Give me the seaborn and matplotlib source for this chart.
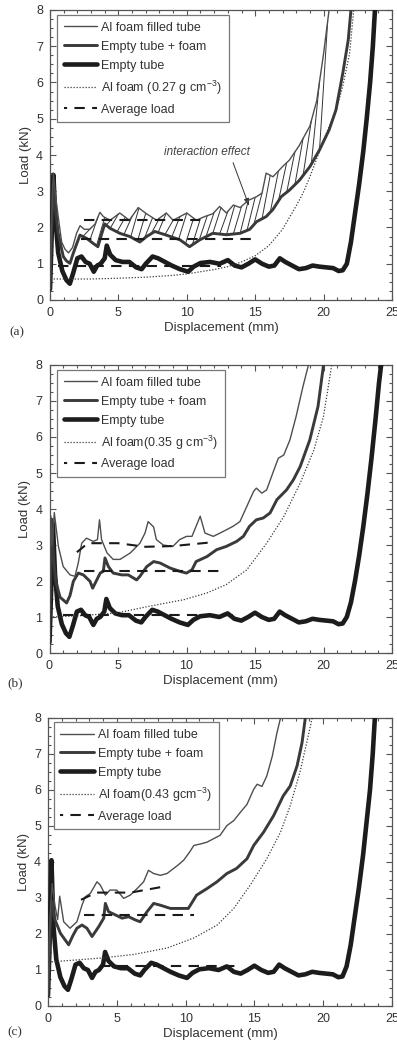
import numpy as np
import matplotlib
matplotlib.use("Agg")
import matplotlib.pyplot as plt
import seaborn as sns
from matplotlib.ticker import MultipleLocator
from matplotlib.lines import Line2D

# ---------------- data ----------------
# Panel (a)
A_FILLED_X = [0.0, 0.1, 0.24, 0.4, 0.6, 0.85, 1.1, 1.35, 1.65, 1.95, 2.2, 2.5, 2.9, 3.3, 3.65, 3.9, 4.4, 5.1, 5.8, 6.45, 7.05, 7.8, 8.5, 9.0, 10.0, 10.7, 11.3, 11.9, 12.4, 12.9, 13.4, 13.9, 14.5, 15.1, 15.5, 15.8, 16.3, 17.0, 17.5, 18.2, 19.0, 19.5, 20.0, 20.4]
A_FILLED_Y = [0.3, 2.0, 3.5, 2.9, 2.3, 1.6, 1.4, 1.3, 1.45, 1.85, 2.05, 1.95, 1.95, 2.1, 2.42, 2.3, 2.2, 2.4, 2.2, 2.55, 2.38, 2.2, 2.4, 2.2, 2.4, 2.2, 2.3, 2.38, 2.58, 2.4, 2.62, 2.55, 2.75, 2.85, 2.95, 3.5, 3.4, 3.68, 3.86, 4.25, 4.8, 5.5, 6.8, 8.0]
A_EPF_X = [0.0, 0.1, 0.24, 0.4, 0.6, 0.97, 1.2, 1.46, 1.7, 2.0, 2.19, 2.68, 3.16, 3.5, 4.0, 4.38, 5.1, 5.84, 6.57, 7.06, 7.66, 8.5, 9.5, 10.2, 10.95, 11.9, 12.9, 13.9, 14.6, 15.1, 15.8, 16.3, 16.9, 17.5, 18.25, 19.0, 19.7, 20.4, 20.9, 21.4, 21.8, 22.0]
A_EPF_Y = [0.3, 1.8, 3.2, 2.5, 1.84, 1.2, 1.08, 1.01, 1.29, 1.6, 1.79, 1.7, 1.56, 1.47, 2.1, 1.98, 1.84, 1.75, 1.6, 1.75, 1.89, 1.79, 1.66, 1.47, 1.66, 1.84, 1.8, 1.84, 1.95, 2.16, 2.3, 2.5, 2.85, 3.03, 3.31, 3.68, 4.14, 4.69, 5.24, 6.25, 7.17, 8.0]
A_EMPTY_X = [0.0, 0.1, 0.25, 0.4, 0.6, 0.9, 1.2, 1.45, 1.7, 2.0, 2.3, 2.6, 2.9, 3.2, 3.45, 3.7, 4.0, 4.15, 4.4, 4.8, 5.3, 5.8, 6.3, 6.7, 7.0, 7.5, 7.9, 8.4, 8.9, 9.5, 10.1, 10.5, 11.0, 11.7, 12.4, 13.0, 13.5, 14.0, 14.5, 15.0, 15.5, 16.0, 16.4, 16.8, 17.2, 17.7, 18.2, 18.7, 19.2, 19.7, 20.2, 20.7, 21.1, 21.4, 21.7, 22.0, 22.3, 22.6, 22.9, 23.15, 23.4, 23.6, 23.8]
A_EMPTY_Y = [0.3, 1.5, 3.45, 2.2, 1.3, 0.8, 0.55, 0.45, 0.75, 1.15, 1.2, 1.05, 1.0, 0.78, 0.95, 1.0, 1.15, 1.5, 1.25, 1.1, 1.05, 1.05, 0.9, 0.85, 1.0, 1.2, 1.15, 1.05, 0.95, 0.85, 0.78, 0.92, 1.02, 1.05, 1.0, 1.1, 0.95, 0.9, 1.0, 1.12, 1.0, 0.92, 0.95, 1.15, 1.05, 0.95, 0.85, 0.88, 0.95, 0.92, 0.9, 0.88, 0.8, 0.82, 1.0, 1.6, 2.4, 3.2, 4.1, 5.0, 6.0, 7.0, 8.3]
A_FOAM_X = [0.05, 1.0, 3.0, 5.0, 7.0, 9.0, 10.0, 11.0, 12.0, 13.0, 14.0, 15.0, 16.0, 17.0, 18.0, 18.5, 19.0, 19.6, 20.2, 20.9, 21.4, 21.9, 22.2, 22.3]
A_FOAM_Y = [0.58, 0.58, 0.58, 0.6, 0.63, 0.68, 0.72, 0.78, 0.84, 0.92, 1.05, 1.22, 1.5, 1.95, 2.6, 2.95, 3.4, 4.0, 4.6, 5.2, 5.9, 6.8, 8.0, 8.5]
A_AVG_X = [[2.5, 11.0], [2.3, 14.7], [0.6, 12.5]]
A_AVG_Y = [[2.2, 2.2], [1.67, 1.67], [0.93, 0.93]]
A_HATCH_X = [2.4, 2.9, 3.4, 3.9, 4.4, 4.9, 5.4, 5.9, 6.4, 6.9, 7.4, 7.9, 8.4, 8.9, 9.4, 9.9, 10.4, 10.9, 11.4, 11.9, 12.4, 12.9, 13.4, 13.9, 14.4, 14.9, 15.5, 16.1, 16.7, 17.3, 17.9, 18.5, 19.1, 19.7]

# Panel (b)
B_FILLED_X = [0.0, 0.1, 0.2, 0.35, 0.65, 1.0, 1.5, 1.86, 2.1, 2.35, 2.7, 3.2, 3.5, 3.65, 3.8, 4.2, 4.65, 5.15, 5.9, 6.6, 6.97, 7.2, 7.6, 7.8, 8.3, 9.0, 9.5, 10.0, 10.4, 10.7, 11.0, 11.35, 11.96, 12.7, 13.4, 13.9, 14.4, 14.9, 15.1, 15.5, 15.85, 16.3, 16.7, 17.1, 17.55, 18.0, 18.5, 18.9]
B_FILLED_Y = [0.3, 3.8, 3.0, 3.9, 2.96, 2.4, 2.17, 2.13, 2.5, 3.05, 3.19, 3.1, 3.15, 3.7, 3.15, 2.78, 2.6, 2.6, 2.78, 3.05, 3.33, 3.65, 3.5, 3.15, 3.0, 2.96, 3.15, 3.24, 3.24, 3.52, 3.8, 3.33, 3.24, 3.38, 3.52, 3.65, 4.07, 4.49, 4.58, 4.44, 4.53, 5.0, 5.41, 5.5, 5.92, 6.57, 7.4, 8.0]
B_EPF_X = [0.0, 0.15, 0.3, 0.45, 0.77, 1.25, 1.5, 1.74, 2.1, 2.47, 2.96, 3.15, 3.7, 3.93, 4.05, 4.3, 4.65, 5.27, 5.75, 6.36, 6.6, 7.1, 7.6, 8.07, 8.8, 9.5, 10.0, 10.4, 10.7, 11.5, 12.2, 12.9, 13.66, 14.15, 14.6, 15.1, 15.6, 16.1, 16.6, 17.3, 17.8, 18.3, 19.0, 19.6, 20.0]
B_EPF_Y = [0.3, 3.7, 2.6, 2.0, 1.55, 1.39, 1.6, 1.99, 2.22, 2.17, 1.99, 1.8, 2.22, 2.27, 2.64, 2.4, 2.22, 2.17, 2.17, 2.03, 2.13, 2.4, 2.54, 2.5, 2.36, 2.27, 2.22, 2.31, 2.54, 2.68, 2.87, 2.96, 3.1, 3.24, 3.52, 3.7, 3.75, 3.89, 4.26, 4.53, 4.81, 5.18, 5.92, 6.85, 8.0]
B_EMPTY_X = [0.0, 0.1, 0.25, 0.4, 0.6, 0.9, 1.2, 1.45, 1.7, 2.0, 2.3, 2.6, 2.9, 3.2, 3.45, 3.7, 4.0, 4.15, 4.4, 4.8, 5.3, 5.8, 6.3, 6.7, 7.0, 7.5, 7.9, 8.4, 8.9, 9.5, 10.1, 10.5, 11.0, 11.7, 12.4, 13.0, 13.5, 14.0, 14.5, 15.0, 15.5, 16.0, 16.4, 16.8, 17.2, 17.7, 18.2, 18.7, 19.2, 19.7, 20.2, 20.7, 21.1, 21.4, 21.7, 22.0, 22.3, 22.6, 22.9, 23.2, 23.5, 23.8, 24.05, 24.3]
B_EMPTY_Y = [0.3, 1.5, 3.6, 2.2, 1.3, 0.8, 0.55, 0.45, 0.75, 1.15, 1.2, 1.05, 1.0, 0.78, 0.95, 1.0, 1.15, 1.5, 1.25, 1.1, 1.05, 1.05, 0.9, 0.85, 1.0, 1.2, 1.15, 1.05, 0.95, 0.85, 0.78, 0.92, 1.02, 1.05, 1.0, 1.1, 0.95, 0.9, 1.0, 1.12, 1.0, 0.92, 0.95, 1.15, 1.05, 0.95, 0.85, 0.88, 0.95, 0.92, 0.9, 0.88, 0.8, 0.82, 1.0, 1.4, 2.0, 2.7, 3.5, 4.4, 5.4, 6.5, 7.5, 8.3]
B_FOAM_X = [0.05, 2.0, 4.9, 7.3, 9.8, 11.5, 12.9, 14.4, 15.85, 17.1, 18.3, 19.3, 20.0, 20.6, 20.7]
B_FOAM_Y = [1.0, 1.03, 1.11, 1.3, 1.48, 1.67, 1.9, 2.31, 3.05, 3.79, 4.72, 5.64, 6.57, 8.0, 8.5]
B_AVG_X = [[2.0, 2.8, 5.0, 7.0, 9.0, 12.0], [2.5, 12.4], [1.0, 13.9]]
B_AVG_Y = [[2.8, 3.05, 3.05, 2.95, 2.97, 3.08], [2.27, 2.27], [1.06, 1.06]]

# Panel (c)
C_FILLED_X = [0.0, 0.15, 0.3, 0.5, 0.7, 0.85, 1.14, 1.6, 2.1, 2.47, 2.7, 3.08, 3.56, 3.8, 4.17, 4.5, 5.0, 5.5, 5.98, 6.47, 6.95, 7.3, 7.68, 8.16, 8.65, 9.4, 9.86, 10.3, 10.6, 11.07, 11.55, 12.0, 12.5, 13.0, 13.5, 13.98, 14.46, 14.95, 15.2, 15.55, 15.9, 16.3, 16.64, 16.9]
C_FILLED_Y = [0.3, 2.5, 3.4, 2.8, 2.4, 3.05, 2.34, 2.16, 2.34, 2.8, 3.03, 3.13, 3.45, 3.36, 3.08, 3.22, 3.22, 2.99, 3.08, 3.26, 3.45, 3.77, 3.68, 3.63, 3.68, 3.9, 4.05, 4.28, 4.46, 4.5, 4.55, 4.64, 4.74, 5.01, 5.15, 5.38, 5.6, 6.02, 6.16, 6.1, 6.39, 6.94, 7.59, 8.0]
C_EPF_X = [0.0, 0.15, 0.3, 0.5, 0.9, 1.5, 1.8, 2.1, 2.47, 2.83, 3.2, 3.68, 4.05, 4.17, 4.4, 4.9, 5.38, 5.86, 6.35, 6.7, 7.2, 7.68, 8.16, 8.9, 9.6, 10.2, 10.8, 11.55, 12.28, 13.0, 13.7, 14.46, 14.95, 15.67, 16.4, 17.1, 17.6, 18.1, 18.46, 18.7]
C_EPF_Y = [0.3, 2.2, 2.9, 2.4, 2.02, 1.7, 1.95, 2.16, 2.25, 2.16, 1.93, 2.2, 2.44, 2.85, 2.62, 2.53, 2.44, 2.48, 2.39, 2.34, 2.62, 2.85, 2.8, 2.71, 2.71, 2.71, 3.08, 3.26, 3.45, 3.68, 3.82, 4.09, 4.46, 4.83, 5.29, 5.84, 6.11, 6.67, 7.31, 8.0]
C_EMPTY_X = [0.0, 0.1, 0.25, 0.4, 0.6, 0.9, 1.2, 1.45, 1.7, 2.0, 2.3, 2.6, 2.9, 3.2, 3.45, 3.7, 4.0, 4.15, 4.4, 4.8, 5.3, 5.8, 6.3, 6.7, 7.0, 7.5, 7.9, 8.4, 8.9, 9.5, 10.1, 10.5, 11.0, 11.7, 12.4, 13.0, 13.5, 14.0, 14.5, 15.0, 15.5, 16.0, 16.4, 16.8, 17.2, 17.7, 18.2, 18.7, 19.2, 19.7, 20.2, 20.7, 21.1, 21.4, 21.7, 22.0, 22.3, 22.6, 22.9, 23.15, 23.4, 23.6, 23.8]
C_EMPTY_Y = [0.3, 1.5, 4.05, 2.2, 1.3, 0.8, 0.55, 0.45, 0.75, 1.15, 1.2, 1.05, 1.0, 0.78, 0.95, 1.0, 1.15, 1.5, 1.25, 1.1, 1.05, 1.05, 0.9, 0.85, 1.0, 1.2, 1.15, 1.05, 0.95, 0.85, 0.78, 0.92, 1.02, 1.05, 1.0, 1.1, 0.95, 0.9, 1.0, 1.12, 1.0, 0.92, 0.95, 1.15, 1.05, 0.95, 0.85, 0.88, 0.95, 0.92, 0.9, 0.88, 0.8, 0.82, 1.1, 1.7, 2.5, 3.3, 4.2, 5.1, 6.0, 7.0, 8.3]
C_FOAM_X = [0.05, 3.8, 6.2, 8.65, 10.6, 12.3, 13.5, 14.7, 15.9, 16.9, 17.6, 18.3, 18.8, 19.2, 19.3]
C_FOAM_Y = [1.22, 1.33, 1.43, 1.61, 1.89, 2.25, 2.71, 3.36, 4.09, 4.83, 5.56, 6.48, 7.31, 8.0, 8.4]
C_AVG_X = [[2.4, 3.5, 6.0, 8.6], [2.6, 10.6], [3.8, 14.0]]
C_AVG_Y = [[2.95, 3.15, 3.15, 3.33], [2.53, 2.53], [1.1, 1.1]]

SERIES_LABELS = ["Al foam filled tube", "Empty tube + foam", "Empty tube", None, "Average load"]
FOAM_LABELS = ["Al foam (0.27 g cm$^{-3}$)", "Al foam(0.35 g cm$^{-3}$)", "Al foam(0.43 gcm$^{-3}$)"]
PANEL_TAGS = ["(a)", "(b)", "(c)"]
X_TICKS = [0, 5, 10, 15, 20, 25]
Y_TICKS = [0, 1, 2, 3, 4, 5, 6, 7, 8]

# ---------------- style ----------------
sns.set_theme(style="ticks")
plt.rcParams["font.family"] = ["Liberation Sans", "DejaVu Sans"]
plt.rcParams["mathtext.fontset"] = "custom"
plt.rcParams["mathtext.rm"] = "Liberation Sans"
plt.rcParams["mathtext.it"] = "Liberation Sans:italic"

W, H = 397, 1045
fig = plt.figure(figsize=(W / 100, H / 100), dpi=100)
fig.patch.set_facecolor("white")

TXT = "#333333"
C_THIN, LW_THIN = "#4e4e4e", 1.0
C_MED, LW_MED = "#3a3a3a", 2.1
C_THICK, LW_THICK = "#1c1c1c", 3.3
C_DOT, LW_DOT, LS_DOT = "#3a3a3a", 0.9, (0, (1, 1.4))
C_DASH, LW_DASH, LS_DASH = "#1a1a1a", 1.5, (0, (5, 3.5))

# axes boxes in pixels: left, top, right, bottom
BOXES = [(50, 10, 392, 300), (49.5, 365, 392, 653), (48, 718, 392, 1006)]
LEGEND_ANCHOR = [(0.02, 0.983), (0.021, 0.983), (0.016, 0.986)]
TAG_POS = [(17, 332), (15, 683), (15, 1032)]

panels = [
    (A_FILLED_X, A_FILLED_Y, A_EPF_X, A_EPF_Y, A_EMPTY_X, A_EMPTY_Y, A_FOAM_X, A_FOAM_Y, A_AVG_X, A_AVG_Y),
    (B_FILLED_X, B_FILLED_Y, B_EPF_X, B_EPF_Y, B_EMPTY_X, B_EMPTY_Y, B_FOAM_X, B_FOAM_Y, B_AVG_X, B_AVG_Y),
    (C_FILLED_X, C_FILLED_Y, C_EPF_X, C_EPF_Y, C_EMPTY_X, C_EMPTY_Y, C_FOAM_X, C_FOAM_Y, C_AVG_X, C_AVG_Y),
]

for i, (fx, fy, ex, ey, tx, ty, ox, oy, avx, avy) in enumerate(panels):
    l, t, r, b = BOXES[i]
    ax = fig.add_axes([l / W, 1 - b / H, (r - l) / W, (b - t) / H])
    ax.set_facecolor("white")

    if i == 0:
        # hatch lines of the interaction effect between the two upper curves
        for hx in A_HATCH_X:
            x2 = min(hx + 0.6, A_FILLED_X[-1])
            ax.plot([hx, x2], [np.interp(hx, ex, ey), np.interp(x2, fx, fy)],
                    color="#333333", lw=0.7, zorder=2)

    sns.lineplot(x=tx, y=ty, ax=ax, sort=False, estimator=None, color=C_THICK, lw=LW_THICK, zorder=3)
    sns.lineplot(x=ex, y=ey, ax=ax, sort=False, estimator=None, color=C_MED, lw=LW_MED, zorder=4)
    sns.lineplot(x=fx, y=fy, ax=ax, sort=False, estimator=None, color=C_THIN, lw=LW_THIN, zorder=5)
    sns.lineplot(x=ox, y=oy, ax=ax, sort=False, estimator=None, color=C_DOT, lw=LW_DOT, linestyle=LS_DOT, zorder=5)
    for axx, ayy in zip(avx, avy):
        sns.lineplot(x=axx, y=ayy, ax=ax, sort=False, estimator=None, color=C_DASH, lw=LW_DASH,
                     linestyle=LS_DASH, zorder=6)

    ax.set_xlim(0, 25)
    ax.set_ylim(0, 8)
    ax.set_xticks(X_TICKS)
    ax.set_yticks(Y_TICKS)
    ax.xaxis.set_minor_locator(MultipleLocator(1))
    ax.yaxis.set_minor_locator(MultipleLocator(0.25))
    ax.tick_params(which="both", direction="in", top=True, right=True, color="#555555", width=0.8,
                   labelsize=9, labelcolor=TXT)
    ax.tick_params(which="major", length=4.5, pad=5)
    ax.tick_params(which="minor", length=2.5)
    for sp in ax.spines.values():
        sp.set_color("#555555")
        sp.set_linewidth(0.9)
    ax.set_xlabel("Displacement (mm)", fontsize=9.5, color=TXT, labelpad=2)
    ax.set_ylabel("Load (kN)", fontsize=9.5, color=TXT, labelpad=3)

    handles = [
        Line2D([], [], color=C_THIN, lw=LW_THIN),
        Line2D([], [], color=C_MED, lw=LW_MED),
        Line2D([], [], color=C_THICK, lw=LW_THICK),
        Line2D([], [], color=C_DOT, lw=LW_DOT, linestyle=LS_DOT),
        Line2D([], [], color=C_DASH, lw=LW_DASH, linestyle=(3.5, (5, 3.5))),
    ]
    labels = [SERIES_LABELS[0], SERIES_LABELS[1], SERIES_LABELS[2], FOAM_LABELS[i], SERIES_LABELS[4]]
    leg = ax.legend(handles, labels, loc="upper left", bbox_to_anchor=LEGEND_ANCHOR[i], borderaxespad=0,
                    fontsize=9, handlelength=2.7, handletextpad=0.3, labelspacing=0.55, borderpad=0.55,
                    frameon=True, fancybox=False, framealpha=1, edgecolor="#777777")
    leg.get_frame().set_linewidth(0.9)
    for txt in leg.get_texts():
        txt.set_color(TXT)

    if i == 0:
        ax.annotate("interaction effect", xy=(14.55, 2.6), xytext=(11.5, 4.08),
                    fontsize=8.5, style="italic", color="#444444", ha="center", va="center",
                    arrowprops=dict(arrowstyle="-|>,head_length=0.5,head_width=0.18", color="#333333",
                                    lw=0.7, relpos=(0.78, 0.0), shrinkA=1, shrinkB=0))

    fig.text(TAG_POS[i][0] / W, 1 - TAG_POS[i][1] / H, PANEL_TAGS[i], family="Liberation Serif",
             fontsize=9.5, color=TXT, ha="center", va="center")

fig.savefig("out.png", dpi=100, facecolor="white")
